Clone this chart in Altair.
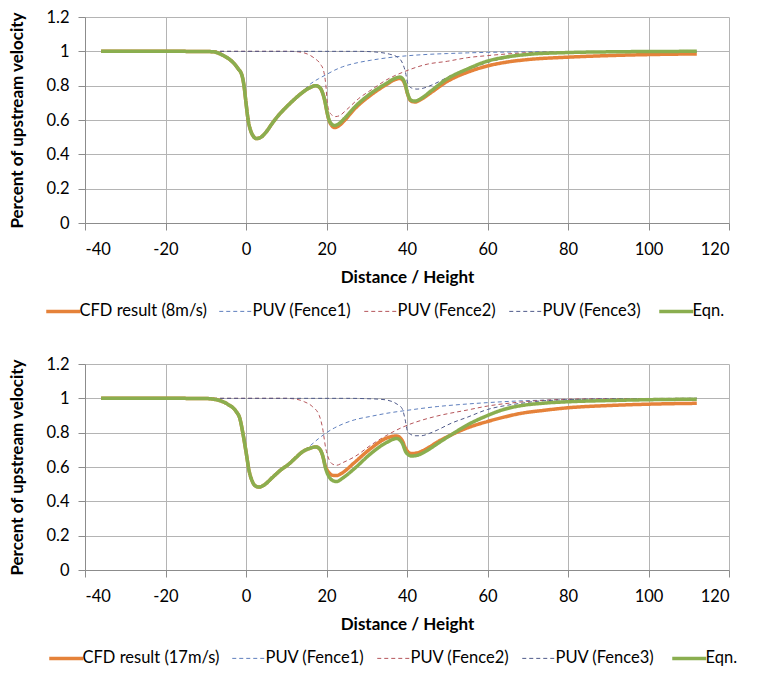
import altair as alt
import pandas as pd

FONT = "Lato"

# ---------------- data: top panel (8 m/s) ----------------
top_cfd_x = [-36, -20, -10, -8, -6, -4.5, -3, -2, -1, -0.5, 0, 0.5, 1, 1.7, 2.5, 3.5, 5, 6.5, 8, 10,
             12, 14, 16, 17.3, 18.3, 19, 19.6, 20.1, 20.6, 21.2, 22, 23, 24.5, 27, 31, 35, 37, 38.2, 39, 39.6,
             40.1, 40.6, 41.2, 42, 43.5, 46, 50, 55, 60, 65, 70, 80, 90, 100, 112]
top_cfd_y = [1.0, 1.0, 0.999, 0.997, 0.98, 0.96, 0.93, 0.9, 0.86, 0.80, 0.70, 0.605, 0.55, 0.51, 0.492, 0.497, 0.53, 0.58, 0.625, 0.675,
             0.72, 0.76, 0.79, 0.80, 0.79, 0.76, 0.71, 0.648, 0.6, 0.57, 0.556, 0.565, 0.598, 0.665, 0.745, 0.808, 0.835, 0.842, 0.83, 0.80,
             0.755, 0.722, 0.708, 0.705, 0.72, 0.76, 0.825, 0.878, 0.915, 0.938, 0.952, 0.966, 0.975, 0.981, 0.985]
top_eqn_x = top_cfd_x
top_eqn_y = [1.0, 1.0, 0.999, 0.997, 0.98, 0.96, 0.93, 0.9, 0.86, 0.80, 0.70, 0.605, 0.55, 0.51, 0.492, 0.497, 0.53, 0.58, 0.625, 0.675,
             0.72, 0.76, 0.79, 0.80, 0.79, 0.76, 0.71, 0.65, 0.603, 0.578, 0.568, 0.577, 0.61, 0.675, 0.755, 0.815, 0.843, 0.85, 0.838, 0.805,
             0.758, 0.727, 0.713, 0.71, 0.725, 0.77, 0.84, 0.897, 0.943, 0.968, 0.982, 0.993, 0.997, 0.999, 1.0]
top_f1_x = [-36, -20, -10, -8, -6, -4.5, -3, -2, -1, -0.5, 0, 0.5, 1, 1.7, 2.5, 3.5, 5, 6.5, 8, 10,
            12, 14, 16, 18, 20, 22, 24, 27, 31, 35, 40, 45, 50, 55, 60, 70, 80, 112]
top_f1_y = [1.0, 1.0, 0.999, 0.997, 0.98, 0.96, 0.93, 0.9, 0.86, 0.80, 0.70, 0.605, 0.55, 0.51, 0.492, 0.497, 0.53, 0.58, 0.625, 0.675,
            0.72, 0.765, 0.81, 0.84, 0.865, 0.89, 0.91, 0.93, 0.948, 0.962, 0.974, 0.982, 0.987, 0.991, 0.994, 0.997, 0.999, 1.0]
top_f2_x = [-36, 10, 13, 15.2, 17, 18.5, 19.3, 19.85, 20.2, 20.7, 21.3, 22.3, 23.2, 25, 28, 31.4, 35, 39.7, 45, 50,
            55, 60, 65, 70, 80, 90, 112]
top_f2_y = [1.0, 1.0, 0.997, 0.985, 0.96, 0.925, 0.885, 0.80, 0.70, 0.65, 0.63, 0.62, 0.625, 0.66, 0.725, 0.78, 0.835, 0.885, 0.925, 0.942,
            0.963, 0.975, 0.985, 0.992, 0.997, 0.999, 1.0]
top_f3_x = [-36, 28, 31, 33.5, 35.6, 37.7, 38.9, 39.6, 40.1, 40.6, 41.3, 42.5, 44, 46.3, 48.5, 51, 55.4, 60, 65, 70,
            75, 80, 90, 112]
top_f3_y = [1.0, 1.0, 0.998, 0.993, 0.984, 0.965, 0.93, 0.88, 0.82, 0.795, 0.785, 0.78, 0.785, 0.805, 0.83, 0.86, 0.895, 0.935, 0.962, 0.978,
            0.988, 0.993, 0.997, 1.0]

# ---------------- data: bottom panel (17 m/s) ----------------
bot_cfd_x = [-36, -20, -10, -8, -6, -4.5, -2.5, -1.5, -0.8, 0, 0.8, 1.5, 2.2, 3.3, 4.5, 6.6, 8.5, 10.8, 12.4, 14,
             16, 17.3, 18.3, 19, 19.8, 20.7, 21.5, 22.5, 24, 26.9, 31, 35.1, 37.4, 38.8, 39.65, 40.4, 41.1, 42.5, 45.8, 47.5,
             50.8, 55, 60, 64, 68.2, 74, 80, 90, 100, 112]
bot_cfd_y = [1.0, 1.0, 0.999, 0.995, 0.983, 0.965, 0.925, 0.88, 0.80, 0.69, 0.575, 0.52, 0.492, 0.483, 0.495, 0.54, 0.58, 0.62, 0.655, 0.688,
             0.71, 0.717, 0.705, 0.67, 0.60, 0.565, 0.552, 0.55, 0.567, 0.625, 0.708, 0.77, 0.781, 0.755, 0.708, 0.685, 0.678, 0.682, 0.72, 0.745,
             0.785, 0.828, 0.865, 0.89, 0.912, 0.93, 0.945, 0.958, 0.966, 0.971]
bot_eqn_x = bot_cfd_x
bot_eqn_y = [1.0, 1.0, 0.999, 0.995, 0.983, 0.965, 0.925, 0.88, 0.80, 0.69, 0.575, 0.52, 0.492, 0.483, 0.495, 0.54, 0.58, 0.62, 0.655, 0.688,
             0.71, 0.717, 0.705, 0.67, 0.59, 0.54, 0.522, 0.515, 0.535, 0.59, 0.678, 0.745, 0.766, 0.74, 0.69, 0.67, 0.664, 0.668, 0.708, 0.735,
             0.785, 0.845, 0.9, 0.935, 0.957, 0.972, 0.98, 0.987, 0.992, 0.995]
bot_f1_x = [-36, -20, -10, -8, -6, -4.5, -2.5, -1.5, -0.8, 0, 0.8, 1.5, 2.2, 3.3, 4.5, 6.6, 8.5, 10.8, 12.4, 14,
            16, 18, 20, 22, 24, 27, 31, 35, 40, 47.5, 55, 60, 68, 80, 100, 112]
bot_f1_y = [1.0, 1.0, 0.999, 0.995, 0.983, 0.965, 0.925, 0.88, 0.80, 0.69, 0.575, 0.52, 0.492, 0.483, 0.495, 0.54, 0.58, 0.62, 0.655, 0.69,
            0.725, 0.765, 0.80, 0.828, 0.85, 0.875, 0.895, 0.913, 0.93, 0.952, 0.967, 0.975, 0.985, 0.992, 0.998, 1.0]
bot_f2_x = [-36, 10, 12.5, 14.5, 16.5, 18.2, 19.0, 19.8, 20.7, 21.5, 22.5, 24, 27, 31, 35, 39.7, 44, 47.5, 55, 60,
            68, 75, 85, 112]
bot_f2_y = [1.0, 1.0, 0.995, 0.98, 0.952, 0.9, 0.83, 0.71, 0.64, 0.617, 0.61, 0.625, 0.66, 0.727, 0.785, 0.84, 0.875, 0.897, 0.932, 0.955,
            0.978, 0.99, 0.997, 1.0]
bot_f3_x = [-36, 25, 30, 33, 35, 37.6, 38.8, 39.5, 40.1, 40.9, 42, 43.5, 45.5, 47.5, 51, 55, 60, 65, 68, 72,
            80, 90, 112]
bot_f3_y = [1.0, 1.0, 0.998, 0.995, 0.99, 0.965, 0.94, 0.88, 0.81, 0.79, 0.782, 0.782, 0.795, 0.815, 0.855, 0.89, 0.935, 0.96, 0.97, 0.982,
            0.992, 0.997, 1.0]

top_names = ["CFD result (8m/s)", "PUV (Fence1)", "PUV (Fence2)", "PUV (Fence3)", "Eqn."]
bot_names = ["CFD result (17m/s)", "PUV (Fence1) ", "PUV (Fence2) ", "PUV (Fence3) ", "Eqn. "]

x_ticks = [-40, -20, 0, 20, 40, 60, 80, 100, 120]
y_ticks = [0, 0.2, 0.4, 0.6, 0.8, 1.0, 1.2]

COLORS = ["#E5823A", "#5F7FBE", "#B5555A", "#4F5A8A", "#8AAE4F"]
DASHES = [[1, 0], [4, 3], [4, 3], [4, 3], [1, 0]]
THICK = 3.5
THIN = 1


def panel(names, series, lx, ly):
    rows = []
    for name, (xs, ys) in zip(names, series):
        for xv, yv in zip(xs, ys):
            rows.append({"series": name, "x": xv, "y": yv})
    df = pd.DataFrame(rows)
    legend = alt.Legend(
        title=None, orient="none", legendX=lx, legendY=ly,
        direction="horizontal", symbolType="stroke", symbolSize=1156,
        labelFont=FONT, labelFontSize=16.5, labelColor="#000000",
        labelOffset=8, columnPadding=10, labelLimit=0,
        symbolStrokeWidth={"expr": "(datum.index == 0 || datum.index == 4) ? %s : %s" % (THICK, THIN)},
    )
    enc = dict(
        x=alt.X("x:Q", scale=alt.Scale(domain=[-40, 120], nice=False),
                axis=alt.Axis(values=x_ticks, title="Distance / Height",
                              labelExpr="toString(datum.value)",
                              labelPadding=11, titlePadding=12)),
        y=alt.Y("y:Q", scale=alt.Scale(domain=[0, 1.2], nice=False),
                axis=alt.Axis(values=y_ticks, title="Percent of upstream velocity",
                              format="~g", labelPadding=9, titlePadding=19)),
        color=alt.Color("series:N", scale=alt.Scale(domain=names, range=COLORS), legend=legend),
        strokeDash=alt.StrokeDash("series:N", scale=alt.Scale(domain=names, range=DASHES), legend=legend),
    )
    base = alt.Chart(df).encode(**enc)
    dashed = base.transform_filter(
        alt.FieldOneOfPredicate(field="series", oneOf=names[1:4])
    ).mark_line(interpolate="monotone", strokeWidth=THIN)
    cfd = base.transform_filter(alt.datum.series == names[0]).mark_line(
        interpolate="monotone", strokeWidth=THICK)
    eqn = base.transform_filter(alt.datum.series == names[4]).mark_line(
        interpolate="monotone", strokeWidth=THICK)
    return alt.layer(dashed, cfd, eqn).properties(width=644, height=206)


top = panel(top_names,
            [(top_cfd_x, top_cfd_y), (top_f1_x, top_f1_y), (top_f2_x, top_f2_y),
             (top_f3_x, top_f3_y), (top_eqn_x, top_eqn_y)], -30, 286)
bottom = panel(bot_names,
               [(bot_cfd_x, bot_cfd_y), (bot_f1_x, bot_f1_y), (bot_f2_x, bot_f2_y),
                (bot_f3_x, bot_f3_y), (bot_eqn_x, bot_eqn_y)], -27, 286)

chart = alt.vconcat(top, bottom, spacing=36).resolve_scale(
    color="independent", strokeDash="independent"
).properties(
    padding={"left": 8, "top": 9, "right": 10, "bottom": 5}
).configure_view(stroke=None).configure_axis(
    gridColor="#B4B4B4", gridWidth=1, domainColor="#8C8C8C", tickColor="#8C8C8C",
    tickSize=7, labelFont=FONT, labelFontSize=16.5, labelColor="#000000",
    titleFont=FONT, titleFontSize=17, titleFontWeight="bold", titleColor="#000000"
)

chart.save("out.html", embed_options={"renderer": "svg", "actions": False})
